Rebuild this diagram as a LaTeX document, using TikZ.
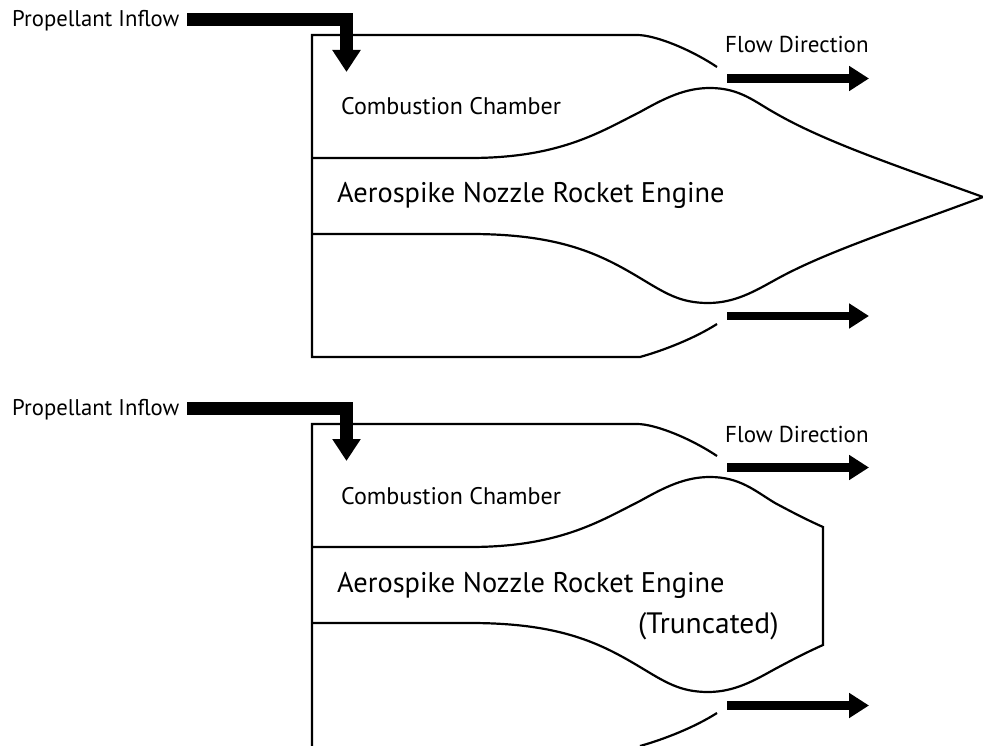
\documentclass[tikz,border=0pt]{standalone}
\usepackage{fontspec}
\setmainfont{PT Sans}
\usetikzlibrary{arrows.meta}
\tikzset{
  wall/.style={line width=2.2pt,line join=miter,line cap=butt},
  inflow/.style={line width=13pt,line join=miter,-{Triangle[length=22pt,width=27pt]}},
  flowarrow/.style={line width=8.5pt,-{Triangle[length=20pt,width=24pt]}},
  smalllabel/.style={font=\fontsize{23}{27}\selectfont,inner sep=0pt,anchor=base west},
  chamberlabel/.style={font=\fontsize{24}{28}\selectfont,inner sep=0pt,anchor=base west},
  inflowlabel/.style={font=\fontsize{22.7}{27}\selectfont,inner sep=0pt,anchor=base west},
  biglabel/.style={font=\fontsize{28.4}{34}\selectfont,inner sep=0pt,anchor=base west},
  trunclabel/.style={font=\fontsize{29.5}{34}\selectfont,inner sep=0pt,anchor=base west}
}
\begin{document}
\begin{tikzpicture}[x=1pt,y=-1pt]
\useasboundingbox (0,0) rectangle (983,746);
\begin{scope}
\clip (0,0) rectangle (983,746);
% upper engine
\draw[wall] (717,67) .. controls (690,49) and (655,35) .. (637,35) -- (312,35) -- (312,357) -- (640,357) .. controls (665,350) and (695,338) .. (717,324);
\draw[wall] (312,158) -- (470,158) .. controls (560,158) and (600,132) .. (640,112) .. controls (665,98) and (685,88) .. (710,88) .. controls (740,88) and (755,102) .. (775,113) .. controls (825,142) and (900,167) .. (983,197) .. controls (900,228) and (825,252) .. (775,280) .. controls (755,291) and (735,303) .. (708,303) .. controls (680,303) and (665,293) .. (640,278) .. controls (600,254) and (560,234) .. (470,234) -- (312,234);
% lower engine
\draw[wall] (717,456) .. controls (690,438) and (655,424) .. (637,424) -- (312,424) -- (312,746) (640,746) .. controls (665,739) and (695,727) .. (717,713);
\draw[wall] (312,547) -- (470,547) .. controls (560,547) and (600,521) .. (640,501) .. controls (665,487) and (685,477) .. (710,477) .. controls (740,477) and (755,491) .. (775,503) .. controls (790,511) and (805,519) .. (823,527) -- (823,645) .. controls (805,653) and (790,661) .. (775,669) .. controls (755,680) and (735,692) .. (708,692) .. controls (680,692) and (665,682) .. (640,667) .. controls (600,643) and (560,623) .. (470,623) -- (312,623);
\end{scope}
% labels
\node[inflowlabel] (pi1) at (12,27) {Propellant Inflow};
\node[smalllabel] (fd1) at (725,53) {Flow Direction};
\node[chamberlabel] (cc1) at (341,115) {Combustion Chamber};
\node[biglabel] (an1) at (337,203) {Aerospike Nozzle Rocket Engine};
\node[inflowlabel] (pi2) at (12,415) {Propellant Inflow};
\node[smalllabel] (fd2) at (725,442) {Flow Direction};
\node[chamberlabel] (cc2) at (341,504) {Combustion Chamber};
\node[biglabel] (an2) at (337,592) {Aerospike Nozzle Rocket Engine};
\node[trunclabel] (tr) at (638,633) {(Truncated)};
% arrows
\coordinate (a1s) at (187,19.3); \coordinate (a1c) at (346.5,19.3); \coordinate (a1e) at (346.5,72);
\draw[inflow] (a1s) -- (a1c) -- (a1e);
\coordinate (a2s) at (187,408.3); \coordinate (a2c) at (346.5,408.3); \coordinate (a2e) at (346.5,461);
\draw[inflow] (a2s) -- (a2c) -- (a2e);
\coordinate (f1s) at (727,78.5); \coordinate (f1e) at (869,78.5);
\draw[flowarrow] (f1s) -- (f1e);
\coordinate (f2s) at (727,316); \coordinate (f2e) at (869,316);
\draw[flowarrow] (f2s) -- (f2e);
\coordinate (f3s) at (727,467.5); \coordinate (f3e) at (869,467.5);
\draw[flowarrow] (f3s) -- (f3e);
\coordinate (f4s) at (727,705.5); \coordinate (f4e) at (869,705.5);
\draw[flowarrow] (f4s) -- (f4e);
\end{tikzpicture}
\end{document}
